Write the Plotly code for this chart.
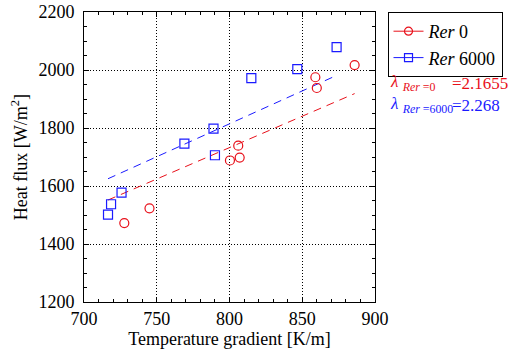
import numpy as np
import plotly.graph_objects as go

# Measured heat flux vs temperature gradient for two rotation rates
grad_rer0 = [727.7, 745.0, 800.3, 806.0, 807.0, 859.0, 860.0, 886.0]
flux_rer0 = [1472, 1523, 1688, 1739, 1698, 1975, 1938, 2017]

grad_rer6000 = [716.5, 718.6, 725.8, 769.0, 789.0, 790.0, 815.0, 846.6, 873.6]
flux_rer6000 = [1501, 1537, 1577, 1746, 1798, 1706, 1972, 2003, 2079]

# Effective conductivities (slope of q = lambda * dT/dx)
lambda_rer0 = 2.1655
lambda_rer6000 = 2.268

RED = "#e8101a"
BLUE = "#1a1aff"
FONT = "Liberation Serif, Times New Roman, serif"

x_start = min(grad_rer0 + grad_rer6000)
fit_x0 = np.array([x_start, max(grad_rer0)])
fit_x6 = np.array([x_start, max(grad_rer6000)])

fig = go.Figure()

# Fourier-law fit lines
fig.add_trace(go.Scatter(x=fit_x0, y=lambda_rer0 * fit_x0, mode="lines",
                         line=dict(color=RED, width=1, dash="8px,6px"),
                         showlegend=False, hoverinfo="skip"))
fig.add_trace(go.Scatter(x=fit_x6, y=lambda_rer6000 * fit_x6, mode="lines",
                         line=dict(color=BLUE, width=1, dash="8px,6px"),
                         showlegend=False, hoverinfo="skip"))

# Measured points
fig.add_trace(go.Scatter(x=grad_rer0, y=flux_rer0, mode="markers",
                         marker=dict(symbol="circle-open", size=9, color=RED,
                                     line=dict(width=1.2)),
                         showlegend=False))
fig.add_trace(go.Scatter(x=grad_rer6000, y=flux_rer6000, mode="markers",
                         marker=dict(symbol="square-open", size=9, color=BLUE,
                                     line=dict(width=1.2)),
                         showlegend=False))

# Legend entries (line-marker-line style)
fig.add_trace(go.Scatter(x=[None], y=[None], mode="lines+markers", name="<i>Rer</i> 0",
                         line=dict(color=RED, width=1),
                         marker=dict(symbol="circle-open", size=8, color=RED,
                                     line=dict(width=1.2))))
fig.add_trace(go.Scatter(x=[None], y=[None], mode="lines+markers", name="<i>Rer</i> 6000",
                         line=dict(color=BLUE, width=1),
                         marker=dict(symbol="square-open", size=8, color=BLUE,
                                     line=dict(width=1.2))))

axis_common = dict(
    showline=True, linecolor="black", linewidth=1, mirror="allticks",
    ticks="inside", ticklen=5, tickcolor="black", tickwidth=1,
    showgrid=True, gridcolor="black", gridwidth=1, griddash="1px,2px",
    zeroline=False, automargin=False,
    tickfont=dict(family=FONT, size=18, color="black"),
)

fig.update_xaxes(range=[700, 900], dtick=50, tick0=700,
                 minor=dict(dtick=10, ticks="inside", ticklen=3, tickcolor="black",
                            showgrid=False),
                 title=dict(text="Temperature gradient [K/m]",
                            font=dict(family=FONT, size=18, color="black"), standoff=4),
                 **axis_common)
fig.update_yaxes(range=[1200, 2200], dtick=200, tick0=1200,
                 minor=dict(dtick=50, ticks="inside", ticklen=3, tickcolor="black",
                            showgrid=False),
                 ticklabelstandoff=5,
                 title=dict(text="Heat flux [W/m<sup>2</sup>]",
                            font=dict(family=FONT, size=18, color="black"), standoff=6),
                 **axis_common)

# Conductivity labels: symbol with subscript, then the value
lam_rows = [
    (0.755, "<i>λ</i> <sub><i>Rer</i> =0</sub>", f"={lambda_rer0}", RED),
    (0.679, "<i>λ</i> <sub><i>Rer</i> =6000</sub>", f"={lambda_rer6000}", BLUE),
]
for ypos, sym, val, col in lam_rows:
    fig.add_annotation(xref="paper", yref="paper", x=1.045, y=ypos,
                       xanchor="left", yanchor="middle", showarrow=False,
                       text=sym, font=dict(family=FONT, size=17, color=col))
    fig.add_annotation(xref="paper", yref="paper", x=1.258, y=ypos,
                       xanchor="left", yanchor="middle", showarrow=False,
                       text=val, font=dict(family=FONT, size=17, color=col))

fig.update_layout(
    width=516, height=354,
    margin=dict(l=84, r=141, t=12, b=52, autoexpand=False),
    paper_bgcolor="white", plot_bgcolor="white",
    font=dict(family=FONT, size=18, color="black"),
    legend=dict(x=1.043, y=1.0, xanchor="left", yanchor="top",
                bordercolor="black", borderwidth=1, bgcolor="white",
                font=dict(family=FONT, size=18),
                itemwidth=30, tracegroupgap=0),
    showlegend=True,
)

fig.write_html("out.html")
